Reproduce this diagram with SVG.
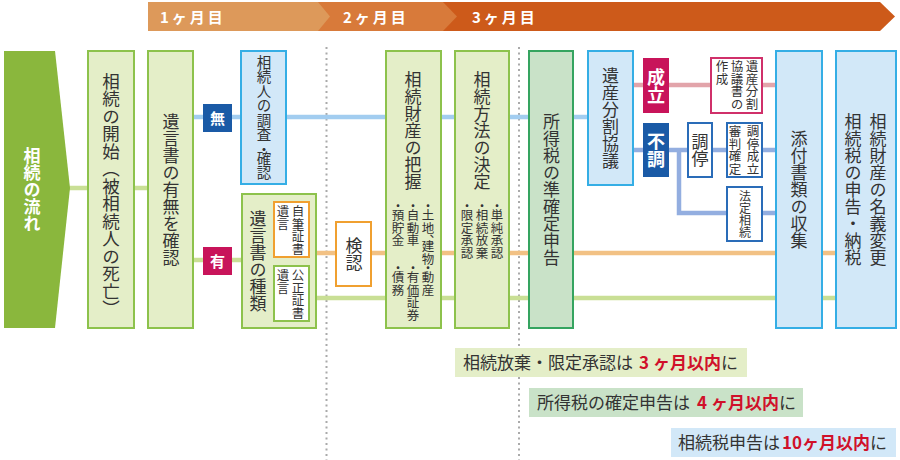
<svg xmlns="http://www.w3.org/2000/svg" width="900" height="460" viewBox="0 0 900 460">
<style>
text{font-family:"Noto Sans CJK JP","Noto Sans",sans-serif;fill:#333}
.v{writing-mode:vertical-rl;text-anchor:middle}
.vs{writing-mode:vertical-rl;text-anchor:start;font-size:12.5px}
.t17{font-size:17px}
.w{fill:#fff;font-weight:bold}
.hd{fill:#fff;font-weight:bold;font-size:15px;letter-spacing:3px}
.lg{fill:#e4eec8;stroke:#8dc24c;stroke-width:2}
.lb{fill:#d2e8f8;stroke:#35aee5;stroke-width:2}
.wo{fill:#fff;stroke:#f0a030;stroke-width:2}
.wg{fill:#fff;stroke:#8dc24c;stroke-width:2}
.wp{fill:#fff;stroke:#d0306a;stroke-width:2}
.wb{fill:#fff;stroke:#2a6cb8;stroke-width:2}
.ln{fill:none;stroke-width:4.5}
.dot{fill:none;stroke:#aaa;stroke-width:2;stroke-dasharray:2 3.5}
.nt{font-size:17px}
.red{fill:#d0102a;font-weight:bold}
</style>
<g id="header">
<polygon points="440,2 880,2 895,16.5 880,31 440,31" fill="#cd5a1a"/>
<polygon points="318,2 443,2 457,16.5 443,31 318,31" fill="#d87a3a"/>
<polygon points="148,2 318,2 330,16.5 318,31 148,31" fill="#dd995a"/>
<text class="hd" x="160" y="23">1ヶ月目</text>
<text class="hd" x="343" y="23">2ヶ月目</text>
<text class="hd" x="472" y="23">3ヶ月目</text>
</g>
<g id="dividers">
<line class="dot" x1="326.5" y1="47" x2="326.5" y2="460"/>
<line class="dot" x1="519" y1="47" x2="519" y2="460"/>
</g>
<g id="connectors">
<path class="ln" stroke="#c9df95" d="M60 188H150"/>
<path class="ln" stroke="#a2cdf0" d="M193 117H588"/>
<path class="ln" stroke="#c9df95" d="M193 260H242"/>
<path class="ln" stroke="#f2c184" d="M316 253H836"/>
<path class="ln" stroke="#c9df95" d="M316 298H836"/>
<path class="ln" stroke="#e2a4aa" d="M633 85H780"/>
<path class="ln" stroke="#93aee0" d="M633 150H780M679 150V213H780"/>
</g>
<g id="n-flow">
<polygon points="4,51 55,51 70,188 55,328 4,328" fill="#8ab73d"/>
<text class="v t17 w" x="32" y="190">相続の流れ</text>
</g>
<g id="n-start">
<rect class="lg" x="88" y="51" width="46" height="277"/>
<text class="v" style="font-size:17.5px" x="111" y="195">相続の開始（被相続人の死亡）</text>
</g>
<g id="n-will-check">
<rect class="lg" x="148" y="51" width="45" height="277"/>
<text class="v t17" x="171" y="190">遺言書の有無を確認</text>
</g>
<g id="l-nashi">
<rect x="203" y="104" width="29" height="28" fill="#1a5aa6"/>
<text class="w" style="font-size:15px;text-anchor:middle" x="217.5" y="123.5">無</text>
</g>
<g id="l-ari">
<rect x="203" y="247" width="29" height="28" fill="#c8145a"/>
<text class="w" style="font-size:15px;text-anchor:middle" x="217.5" y="266.5">有</text>
</g>
<g id="n-heirs">
<rect class="lb" x="241" y="51" width="45" height="133"/>
<text class="vs" style="font-size:14.5px" x="264" y="55">相続人の調査<tspan>・</tspan><tspan dy="-6">確認</tspan></text>
</g>
<g id="n-will-type">
<rect class="lg" x="242" y="194" width="74" height="134"/>
<text class="v t17" x="258" y="261">遺言書の種類</text>
</g>
<g id="n-holo">
<rect class="wo" x="274" y="202" width="35" height="55"/>
<text class="vs" x="298" y="205">自筆証書</text>
<text class="vs" x="283" y="205">遺言</text>
</g>
<g id="n-notary">
<rect class="wg" x="274" y="266" width="35" height="55"/>
<text class="vs" x="298" y="269">公正証書</text>
<text class="vs" x="283" y="269">遺言</text>
</g>
<g id="n-probate">
<rect class="wo" x="336" y="222" width="35" height="64"/>
<text class="v t17" x="354" y="254">検認</text>
</g>
<g id="n-assets">
<rect class="lg" x="386" y="51" width="55" height="277"/>
<text class="v t17" x="413" y="131">相続財産の把握</text>
<text class="vs" x="428" y="200">・<tspan dy="-4">土地、</tspan><tspan dy="-6">建物</tspan></text>
<text class="vs" x="413" y="200">・<tspan dy="-4">自動車</tspan></text>
<text class="vs" x="398" y="200">・<tspan dy="-4">預貯金</tspan></text>
<text class="vs" x="428" y="262">・<tspan dy="-4">動産</tspan></text>
<text class="vs" x="413" y="262">・<tspan dy="-4">有価証券</tspan></text>
<text class="vs" x="398" y="262">・<tspan dy="-4">債務</tspan></text>
</g>
<g id="n-method">
<rect class="lg" x="455" y="51" width="54" height="277"/>
<text class="v t17" x="482" y="131">相続方法の決定</text>
<text class="vs" x="497" y="200">・<tspan dy="-4">単純承認</tspan></text>
<text class="vs" x="482" y="200">・<tspan dy="-4">相続放棄</tspan></text>
<text class="vs" x="467" y="200">・<tspan dy="-4">限定承認</tspan></text>
</g>
<g id="n-income">
<rect x="529" y="51" width="44" height="277" fill="#c9e2c8" stroke="#35a460" stroke-width="2"/>
<text class="v t17" x="551.5" y="190">所得税の準確定申告</text>
</g>
<g id="n-division">
<rect class="lb" x="588" y="51" width="45" height="134"/>
<text class="v t17" x="610.5" y="118">遺産分割協議</text>
</g>
<g id="l-seiritsu">
<rect x="643" y="58" width="26" height="55" fill="#c8145a"/>
<text class="v w" style="font-size:18px" x="656" y="86">成立</text>
</g>
<g id="l-fucho">
<rect x="643" y="123" width="26" height="54" fill="#1a5aa6"/>
<text class="v w" style="font-size:18px" x="656" y="150">不調</text>
</g>
<g id="n-agreement">
<rect class="wp" x="711" y="58" width="51" height="55"/>
<text class="vs" x="752" y="60">遺産分割</text>
<text class="vs" x="737" y="60">協議書の</text>
<text class="vs" x="722" y="60">作成</text>
</g>
<g id="n-mediation">
<rect class="wb" x="688" y="123" width="24" height="54"/>
<text class="v t17" x="700" y="150">調停</text>
</g>
<g id="n-judgment">
<rect class="wb" x="727" y="123" width="35" height="54"/>
<text class="vs" x="753" y="125">調停成立</text>
<text class="vs" x="735" y="125">審判確定</text>
</g>
<g id="n-legal">
<rect class="wb" x="727" y="187" width="35" height="54"/>
<text class="v" style="font-size:12px" x="745" y="214">法定相続</text>
</g>
<g id="n-docs">
<rect class="lb" x="776" y="51" width="46" height="277"/>
<text class="v t17" x="799" y="190">添付書類の収集</text>
</g>
<g id="n-final">
<rect class="lb" x="836" y="51" width="60" height="277"/>
<text class="v t17" x="878" y="190">相続財産の名義変更</text>
<text class="v t17" x="853" y="190">相続税の申告・納税</text>
</g>
<g id="note1">
<rect x="455" y="348" width="292" height="29" fill="#e4eec8"/>
<text class="nt" x="463" y="369">相続放棄・限定承認は<tspan class="red" dx="6">3</tspan><tspan class="red" dx="4">ヶ月以内</tspan>に</text>
</g>
<g id="note2">
<rect x="529" y="388" width="274" height="29" fill="#c9e2c8"/>
<text class="nt" x="537" y="409">所得税の確定申告は<tspan class="red" dx="7">4</tspan><tspan class="red" dx="4">ヶ月以内</tspan>に</text>
</g>
<g id="note3">
<rect x="671" y="428" width="225" height="29" fill="#d2e8f8"/>
<text class="nt" x="678" y="449">相続税申告は<tspan class="red" dx="2">10ヶ月以内</tspan>に</text>
</g>
</svg>
